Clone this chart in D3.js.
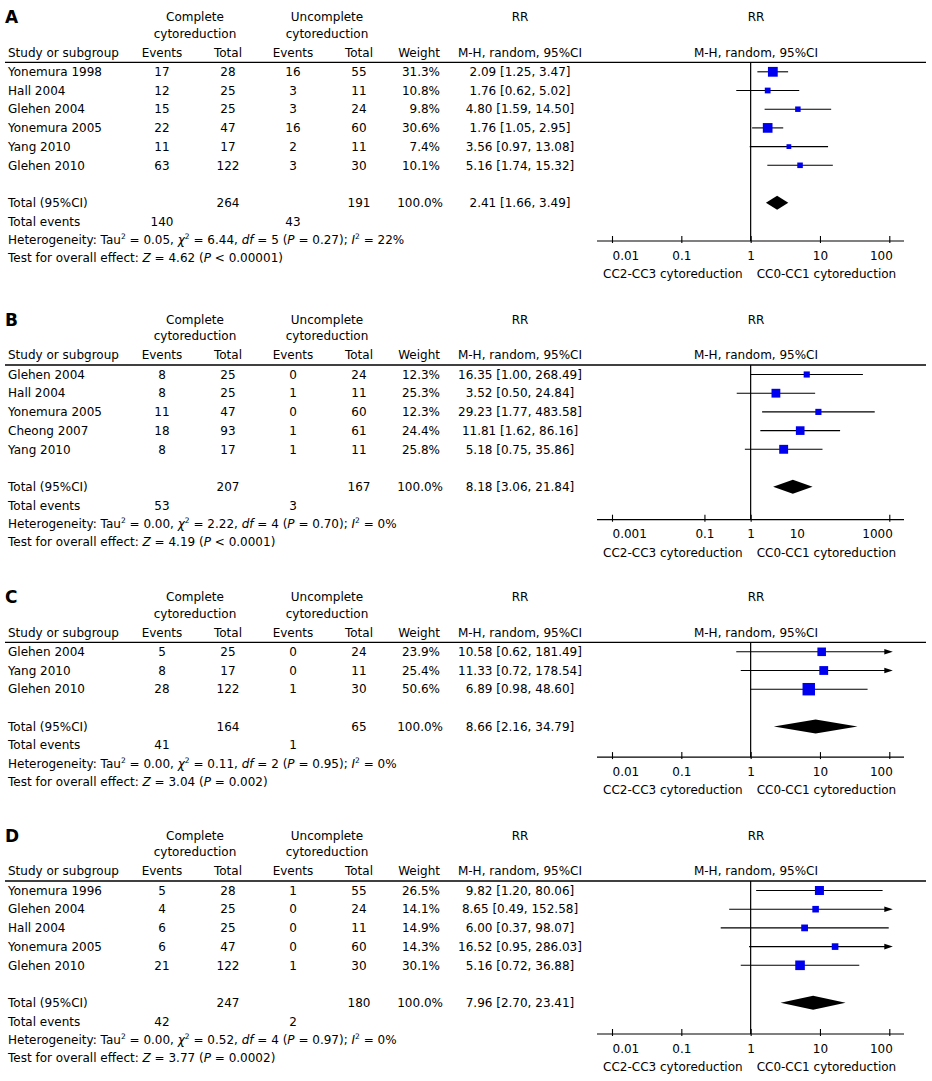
<!DOCTYPE html>
<html><head><meta charset="utf-8">
<script src="https://cdn.jsdelivr.net/npm/d3@7"></script>
<style>
body{margin:0;background:#fff}
text{font-family:"DejaVu Sans",Verdana,sans-serif;font-size:12px;fill:#000}
text.letter{font-size:17px;font-weight:bold}
</style>
</head><body>
<svg id="chart" width="932" height="1081"></svg>
<script>
// ---------- Panel A ----------
const studiesA = ["Yonemura 1998","Hall 2004","Glehen 2004","Yonemura 2005","Yang 2010","Glehen 2010"];
const eventsCA = [17,12,15,22,11,63];
const totalCA  = [28,25,25,47,17,122];
const eventsUA = [16,3,3,16,2,3];
const totalUA  = [55,11,24,60,11,30];
const weightA  = [31.3,10.8,9.8,30.6,7.4,10.1];
const rrA      = [2.09,1.76,4.80,1.76,3.56,5.16];
const loA      = [1.25,0.62,1.59,1.05,0.97,1.74];
const hiA      = [3.47,5.02,14.50,2.95,13.08,15.32];
const pooledA  = [2.41,1.66,3.49];
const sumsA    = [264,191,140,43];
const hetA     = ["0.05","6.44","5","0.27","22%"];
const testA    = ["4.62","P < 0.00001"];
const ticksA   = [0.01,0.1,1,10,100];

// ---------- Panel B ----------
const studiesB = ["Glehen 2004","Hall 2004","Yonemura 2005","Cheong 2007","Yang 2010"];
const eventsCB = [8,8,11,18,8];
const totalCB  = [25,25,47,93,17];
const eventsUB = [0,1,0,1,1];
const totalUB  = [24,11,60,61,11];
const weightB  = [12.3,25.3,12.3,24.4,25.8];
const rrB      = [16.35,3.52,29.23,11.81,5.18];
const loB      = [1.00,0.50,1.77,1.62,0.75];
const hiB      = [268.49,24.84,483.58,86.16,35.86];
const pooledB  = [8.18,3.06,21.84];
const sumsB    = [207,167,53,3];
const hetB     = ["0.00","2.22","4","0.70","0%"];
const testB    = ["4.19","P < 0.0001"];
const ticksB   = [0.001,0.1,1,10,1000];
const tickMarksB = [0.001,0.1,1,1000];

// ---------- Panel C ----------
const studiesC = ["Glehen 2004","Yang 2010","Glehen 2010"];
const eventsCC = [5,8,28];
const totalCC  = [25,17,122];
const eventsUC = [0,0,1];
const totalUC  = [24,11,30];
const weightC  = [23.9,25.4,50.6];
const rrC      = [10.58,11.33,6.89];
const loC      = [0.62,0.72,0.98];
const hiC      = [181.49,178.54,48.60];
const pooledC  = [8.66,2.16,34.79];
const sumsC    = [164,65,41,1];
const hetC     = ["0.00","0.11","2","0.95","0%"];
const testC    = ["3.04","P = 0.002"];
const ticksC   = [0.01,0.1,1,10,100];

// ---------- Panel D ----------
const studiesD = ["Yonemura 1996","Glehen 2004","Hall 2004","Yonemura 2005","Glehen 2010"];
const eventsCD = [5,4,6,6,21];
const totalCD  = [28,25,25,47,122];
const eventsUD = [1,0,0,0,1];
const totalUD  = [55,24,11,60,30];
const weightD  = [26.5,14.1,14.9,14.3,30.1];
const rrD      = [9.82,8.65,6.00,16.52,5.16];
const loD      = [1.20,0.49,0.37,0.95,0.72];
const hiD      = [80.06,152.58,98.07,286.03,36.88];
const pooledD  = [7.96,2.70,23.41];
const sumsD    = [247,180,42,2];
const hetD     = ["0.00","0.52","4","0.97","0%"];
const testD    = ["3.77","P = 0.0002"];
const ticksD   = [0.01,0.1,1,10,100];

const leftLabel = "CC2-CC3 cytoreduction";
const rightLabel = "CC0-CC1 cytoreduction";

// ---------- layout (positions kept separate from data) ----------
const panels = [
  {letter:"A", s:studiesA, eC:eventsCA, tC:totalCA, eU:eventsUA, tU:totalUA, w:weightA, rr:rrA, lo:loA, hi:hiA, pooled:pooledA, sums:sumsA, het:hetA, test:testA, ticks:ticksA, marks:ticksA, top:62.3, axisGap:38.3},
  {letter:"B", s:studiesB, eC:eventsCB, tC:totalCB, eU:eventsUB, tU:totalUB, w:weightB, rr:rrB, lo:loB, hi:hiB, pooled:pooledB, sums:sumsB, het:hetB, test:testB, ticks:ticksB, marks:tickMarksB, top:365, axisGap:33},
  {letter:"C", s:studiesC, eC:eventsCC, tC:totalCC, eU:eventsUC, tU:totalUC, w:weightC, rr:rrC, lo:loC, hi:hiC, pooled:pooledC, sums:sumsC, het:hetC, test:testC, ticks:ticksC, marks:ticksC, top:642.3, axisGap:30.5},
  {letter:"D", s:studiesD, eC:eventsCD, tC:totalCD, eU:eventsUD, tU:totalUD, w:weightD, rr:rrD, lo:loD, hi:hiD, pooled:pooledD, sums:sumsD, het:hetD, test:testD, ticks:ticksD, marks:ticksD, top:881, axisGap:31.3}
];

const svg = d3.select("#chart");
const X = {study:8, ev1:162, tot1:228, ev2:293, tot2:359, w:440, rrTxt:520, grp1:195, grp2:327, plotC:756};
const rowH = 18.7, base = 4.2;
const fmt2 = d3.format(".2f");

function txt(g, x, y, s, anchor){
  return g.append("text").attr("x", x).attr("y", y + base).attr("text-anchor", anchor || "start").text(s);
}

panels.forEach(p => {
  const g = svg.append("g");
  const H = p.top;
  const x = d3.scaleLog().domain([p.ticks[0], p.ticks[p.ticks.length-1]]).range([612, 889.3]);
  const [d0, d1] = x.domain();

  // headers
  g.append("text").attr("class","letter").attr("x",5).attr("y",H-45+6).text(p.letter);
  txt(g, X.grp1, H-45.5, "Complete", "middle");
  txt(g, X.grp1, H-29, "cytoreduction", "middle");
  txt(g, X.grp2, H-45.5, "Uncomplete", "middle");
  txt(g, X.grp2, H-29, "cytoreduction", "middle");
  txt(g, X.rrTxt, H-45.5, "RR", "middle");
  txt(g, X.plotC, H-45.5, "RR", "middle");
  const hy = H-9.8;
  txt(g, X.study, hy, "Study or subgroup");
  txt(g, X.ev1, hy, "Events", "middle");
  txt(g, X.tot1, hy, "Total", "middle");
  txt(g, X.ev2, hy, "Events", "middle");
  txt(g, X.tot2, hy, "Total", "middle");
  txt(g, X.w, hy, "Weight", "end");
  txt(g, X.rrTxt, hy, "M-H, random, 95%CI", "middle");
  txt(g, X.plotC, hy, "M-H, random, 95%CI", "middle");
  g.append("line").attr("x1",5).attr("x2",926).attr("y1",H).attr("y2",H).attr("stroke","#000").attr("stroke-width",1.3);

  const n = p.s.length;
  const rowY = i => H + 9.5 + i*rowH;
  const totY = rowY(n+1);
  const axisY = totY + p.axisGap;

  // vertical line of no effect
  g.append("line").attr("x1",x(1)).attr("x2",x(1)).attr("y1",H).attr("y2",axisY).attr("stroke","#000").attr("stroke-width",1.2);

  // study rows
  p.s.forEach((name,i) => {
    const y = rowY(i);
    txt(g, X.study, y, name);
    txt(g, X.ev1, y, p.eC[i], "middle");
    txt(g, X.tot1, y, p.tC[i], "middle");
    txt(g, X.ev2, y, p.eU[i], "middle");
    txt(g, X.tot2, y, p.tU[i], "middle");
    txt(g, X.w, y, p.w[i].toFixed(1)+"%", "end");
    txt(g, X.rrTxt, y, `${fmt2(p.rr[i])} [${fmt2(p.lo[i])}, ${fmt2(p.hi[i])}]`, "middle");
    const xl = x(Math.max(p.lo[i], d0)), xh = x(Math.min(p.hi[i], d1));
    g.append("line").attr("x1",xl).attr("x2",xh).attr("y1",y).attr("y2",y).attr("stroke","#000").attr("stroke-width",1.1);
    if (p.hi[i] > d1) {
      g.append("path").attr("d",`M${xh-5},${y-2.8}L${xh+3.5},${y}L${xh-5},${y+2.8}Z`).attr("fill","#000");
    }
    const sz = 1.75*Math.sqrt(p.w[i]);
    g.append("rect").attr("x",x(p.rr[i])-sz/2).attr("y",y-sz/2).attr("width",sz).attr("height",sz).attr("fill","#0000f0");
  });

  // total row
  txt(g, X.study, totY, "Total (95%CI)");
  txt(g, X.tot1, totY, p.sums[0], "middle");
  txt(g, X.tot2, totY, p.sums[1], "middle");
  txt(g, X.w+3, totY, "100.0%", "end");
  txt(g, X.rrTxt, totY, `${fmt2(p.pooled[0])} [${fmt2(p.pooled[1])}, ${fmt2(p.pooled[2])}]`, "middle");
  g.append("path").attr("d",`M${x(p.pooled[1])},${totY}L${x(p.pooled[0])},${totY-7}L${x(p.pooled[2])},${totY}L${x(p.pooled[0])},${totY+7}Z`).attr("fill","#000");

  const evY = totY + 18.6;
  txt(g, X.study, evY, "Total events");
  txt(g, X.ev1, evY, p.sums[2], "middle");
  txt(g, X.ev2, evY, p.sums[3], "middle");

  // heterogeneity
  const hetY = totY + 37.3;
  const ht = txt(g, X.study, hetY, "Heterogeneity: Tau");
  ht.append("tspan").attr("dy",-5).style("font-size","7.5px").text("2");
  ht.append("tspan").attr("dy",5).text(` = ${p.het[0]}, `);
  ht.append("tspan").style("font-style","italic").text("χ");
  ht.append("tspan").attr("dy",-5).style("font-size","7.5px").text("2");
  ht.append("tspan").attr("dy",5).text(` = ${p.het[1]}, `);
  ht.append("tspan").style("font-style","italic").text("df");
  ht.append("tspan").text(` = ${p.het[2]} (`);
  ht.append("tspan").style("font-style","italic").text("P");
  ht.append("tspan").text(` = ${p.het[3]}); `);
  ht.append("tspan").style("font-style","italic").text("I");
  ht.append("tspan").attr("dy",-5).style("font-size","7.5px").text("2");
  ht.append("tspan").attr("dy",5).text(` = ${p.het[4]}`);

  const testY = totY + 55.3;
  const tt = txt(g, X.study, testY, "Test for overall effect: ");
  tt.append("tspan").style("font-style","italic").text("Z");
  tt.append("tspan").text(` = ${p.test[0]} (`);
  tt.append("tspan").style("font-style","italic").text("P");
  tt.append("tspan").text(p.test[1].slice(1) + ")");

  // axis
  g.append("line").attr("x1",597).attr("x2",904).attr("y1",axisY).attr("y2",axisY).attr("stroke","#000").attr("stroke-width",1.2);
  const ax = g.append("g").attr("transform",`translate(0,${axisY})`)
    .call(d3.axisBottom(x).tickValues(p.ticks).tickFormat(d => String(d)).tickSizeOuter(0));
  ax.select(".domain").remove();
  ax.selectAll(".tick line").attr("y1",-5).attr("y2",2).attr("stroke","#000").attr("stroke-width",1.1)
    .style("display", d => p.marks.includes(d) ? null : "none");
  const last = p.ticks.length-1;
  ax.selectAll(".tick text").attr("y",18.5).attr("dy",null).attr("fill","#000")
    .attr("text-anchor",(d,i) => i===0 ? "start" : (i===last ? "end" : "middle"))
    .attr("x",(d,i) => i===last ? 3 : 0);
  txt(g, x(1)-8, axisY+33, leftLabel, "end");
  txt(g, x(1)+6, axisY+33, rightLabel, "start");
});
</script>
</body></html>
